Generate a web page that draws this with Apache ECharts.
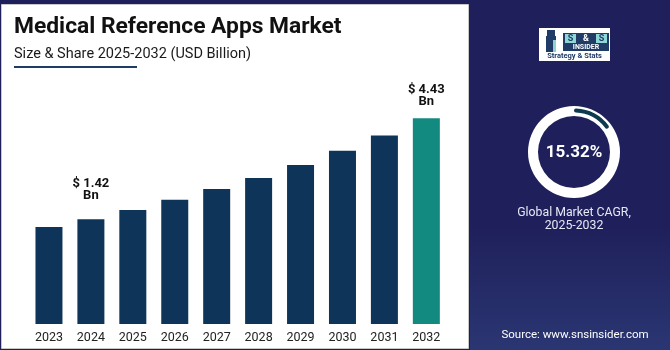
<!DOCTYPE html>
<html>
<head>
<meta charset="utf-8">
<style>
html,body{margin:0;padding:0;background:#1f205b;}
#chart{width:670px;height:350px;}
</style>
<script src="https://cdn.jsdelivr.net/npm/echarts@6/dist/echarts.min.js"></script>
</head>
<body>
<div id="chart"></div>
<script>
// ---- data ----
const titleText = 'Medical Reference Apps Market';
const subtitleText = 'Size & Share 2025-2032 (USD Billion)';
const years = ['2023','2024','2025','2026','2027','2028','2029','2030','2031','2032'];
const marketValues = [1.19, 1.42, 1.70, 2.00, 2.32, 2.65, 3.04, 3.46, 3.92, 4.43];
const labelledYears = ['2024','2032'];
const highlightYear = '2032';
const cagrValue = 15.32;
const cagrLabel = ['Global Market CAGR,', '2025-2032'];
const sourceText = 'Source: www.snsinsider.com';

const NAVY = '#0f3459', TEAL = '#138a80';
const labelDistance = { '2024': 18, '2032': 11 };
const chart = echarts.init(document.getElementById('chart'), null, {renderer:'canvas'});

const barData = marketValues.map((v, i) => ({
  value: v,
  itemStyle: { color: years[i] === highlightYear ? TEAL : NAVY },
  label: { show: labelledYears.includes(years[i]), distance: labelDistance[years[i]] || 12 }
}));

const option = {
  backgroundColor: '#1f205b',
  animation: false,
  graphic: [
    { type:'rect', z:-10, shape:{x:470, y:0, width:200, height:350},
      style:{ fill: new echarts.graphic.LinearGradient(0,0,0,1,[
        {offset:0,color:'#1f205b'},{offset:0.65,color:'#1f205b'},{offset:1,color:'#2a3672'}]) } },
    { type:'rect', z:-9, shape:{x:1.5, y:4.5, width:467, height:344},
      style:{ fill:'#ffffff', stroke:'#c8c8c8', lineWidth:1 } },
    { type:'text', z:5, left:14, top:16, style:{ text:titleText, font:'bold 22.8px Roboto', fill:'#111111' } },
    { type:'text', z:5, left:14, top:47, style:{ text:subtitleText, font:'14.5px Roboto', fill:'#1a1a1a' } },
    { type:'rect', z:5, shape:{x:14, y:66, width:123, height:2}, style:{ fill:'#1f3b66' } },
    // logo
    { type:'group', z:5, children:[
      { type:'rect', shape:{x:539, y:28, width:71, height:33}, style:{ fill:'#ffffff' } },
      { type:'rect', shape:{x:546, y:36, width:10, height:16}, style:{ fill:'#1f3b66' } },
      { type:'rect', shape:{x:547, y:30, width:8, height:6}, style:{ fill:'#1f3b66' } },
      { type:'rect', shape:{x:553, y:40, width:3, height:12}, style:{ fill:'#8fd0d0' } },
      { type:'rect', shape:{x:563, y:33, width:46, height:18}, style:{ fill:'#1f3b66' } },
      { type:'rect', shape:{x:565, y:34, width:11, height:9}, style:{ fill:'#8fd6d6' } },
      { type:'rect', shape:{x:596, y:34, width:11, height:9}, style:{ fill:'#8fd6d6' } },
      { type:'text', style:{ text:'S', x:570.5, y:38.7, font:'bold 9px Roboto', fill:'#1f3b66', align:'center', verticalAlign:'middle' } },
      { type:'text', style:{ text:'&', x:586, y:38.7, font:'bold 9px Roboto', fill:'#ffffff', align:'center', verticalAlign:'middle' } },
      { type:'text', style:{ text:'S', x:601.5, y:38.7, font:'bold 9px Roboto', fill:'#1f3b66', align:'center', verticalAlign:'middle' } },
      { type:'text', style:{ text:'INSIDER', x:586, y:47.3, font:'bold 7px Roboto', fill:'#ffffff', align:'center', verticalAlign:'middle' } },
      { type:'text', style:{ text:'Strategy & Stats', x:574.5, y:56.5, font:'bold 7.5px Roboto', fill:'#1f3b66', align:'center', verticalAlign:'middle' } }
    ]},
    { type:'text', z:5, style:{ text:cagrValue.toFixed(2)+'%', x:574, y:153, font:'bold 17px Roboto', fill:'#ffffff', align:'center', verticalAlign:'middle' } },
    { type:'text', z:5, style:{ text:cagrLabel.join('\n'), x:574, y:219.5, font:'12.3px Roboto', lineHeight:13.5, fill:'#e6e8f5', align:'center', verticalAlign:'middle' } },
    { type:'text', z:5, style:{ text:sourceText, x:575, y:335, font:'11.5px Roboto', fill:'#ffffff', align:'center', verticalAlign:'middle' } }
  ],
  grid: { left:28, right:670-447.3, top:118.3, bottom:26, containLabel:false },
  xAxis: {
    type:'category', data:years,
    axisLine:{show:false}, axisTick:{show:false},
    axisLabel:{ color:'#222222', fontSize:12.5, fontFamily:'Roboto', margin:7 }
  },
  yAxis: { type:'value', min:-1.7, max:4.43, startValue:-1.7, show:false, splitLine:{show:false} },
  series: [
    { type:'bar', data:barData, barWidth:27, clip:true,
      label:{ position:'top', formatter:p => '$ ' + p.value.toFixed(2) + '\nBn',
        fontFamily:'Roboto', fontWeight:'bold', fontSize:13, lineHeight:11.5, color:'#111111', align:'center' } },
    { type:'pie', center:[574,152], radius:[36,46], silent:true, label:{show:false}, z:3,
      data:[{ value:100, itemStyle:{color:'#ffffff'} }] },
    { type:'pie', center:[574,152], radius:[39.5,43.5], startAngle:90, clockwise:true, silent:true, z:4,
      label:{show:false},
      data:[
        { value:cagrValue, itemStyle:{ color:'#0d3a4e', borderRadius:3 } },
        { value:100-cagrValue, itemStyle:{ color:'rgba(0,0,0,0)' } }
      ] }
  ]
};
chart.setOption(option);
</script>
</body>
</html>
